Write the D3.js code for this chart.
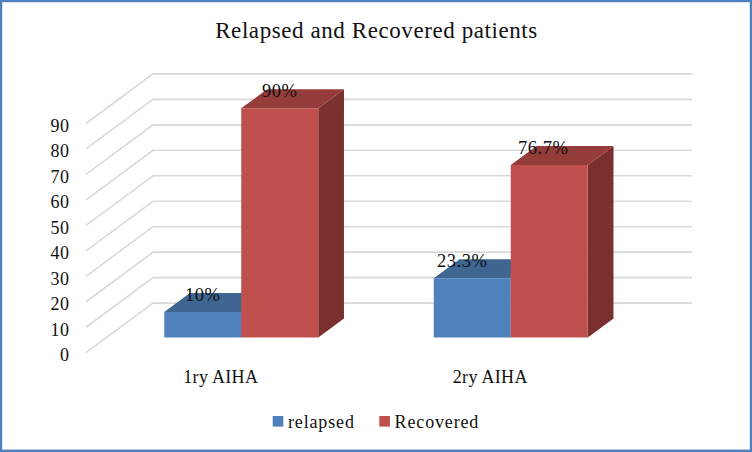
<!DOCTYPE html>
<html><head><meta charset="utf-8"><script src="https://cdn.jsdelivr.net/npm/d3@7"></script>
<style>html,body{margin:0;padding:0;background:#fff}svg{display:block}text{font-family:"Liberation Serif",serif;fill:#111}</style>
</head><body><svg id="c" width="752" height="452"></svg>
<script>
const titleText = "Relapsed and Recovered patients";
const categories = ["1ry AIHA", "2ry AIHA"];
const seriesNames = ["relapsed", "Recovered"];
const relapsed = [10, 23.3];
const recovered = [90, 67.7];
const relapsedLabels = ["10%", "23.3%"];
const recoveredLabels = ["90%", "76.7%"];
const valueTicks = [0,10,20,30,40,50,60,70,80,90];

const W=752,H=452;
const svg=d3.select("#c");
svg.append("rect").attr("x",1).attr("y",1).attr("width",W-2).attr("height",H-2.2)
  .attr("fill","#fff").attr("stroke","#4F81BD").attr("stroke-width",2.4);

const y=d3.scaleLinear().domain([0,90]).range([352.7,123.5]);
const x0=d3.scaleBand().domain(categories).range([86,625]).paddingInner(0.4286).paddingOuter(0.2143);
const x1=d3.scaleBand().domain(seriesNames).range([0,x0.bandwidth()]);
const depthX=d3.scaleLinear().domain([0,1]).range([0,67]);
const depthY=d3.scaleLinear().domain([0,1]).range([0,-49.6]);
const P=(px,v,d)=>[px+depthX(d),y(v)+depthY(d)];
const poly=pts=>pts.map(p=>p.join(",")).join(" ");
const FS="18px", LS="0.55px";

const grid=svg.append("g").attr("fill","none").attr("stroke","#D9D9D9").attr("stroke-width",1.6);
valueTicks.forEach(t=>{
  grid.append("polyline").attr("points",poly([P(86,t,0),P(86,t,1),P(625,t,1)]));
});

const yAxis=d3.axisLeft(y).tickValues(valueTicks).tickSize(0).tickPadding(16.5);
const ga=svg.append("g").attr("transform","translate(86,1.5)").call(yAxis);
ga.select(".domain").remove();
ga.selectAll("text").style("font-size",FS).style("letter-spacing",LS).style("font-family","'Liberation Serif',serif").attr("dy","0.36em");

const xAxis=d3.axisBottom(x0).tickSize(0).tickPadding(0);
const gx=svg.append("g").attr("transform","translate(0,377)").call(xAxis);
gx.select(".domain").remove();
gx.selectAll("text").style("font-size",FS).style("letter-spacing","0.3px").style("font-family","'Liberation Serif',serif").attr("dy","0.36em");

const d0=0.306,d1=0.69;
const seriesData=[
 {name:seriesNames[0],values:relapsed,labels:relapsedLabels,front:"#4F81BD",top:"#3F6591",side:"#345578"},
 {name:seriesNames[1],values:recovered,labels:recoveredLabels,front:"#C0504D",top:"#943C3A",side:"#7A302E"}
];
const labelNudge=[[0,0],[-10,-6]];
const bars=svg.append("g");
seriesData.forEach(s=>{
  categories.forEach((c,i)=>{
    const xa=x0(c)+x1(s.name), xb=xa+x1.bandwidth(), v=s.values[i];
    bars.append("polygon").attr("fill",s.side).attr("points",poly([P(xb,0,d0),P(xb,0,d1),P(xb,v,d1),P(xb,v,d0)]));
    bars.append("polygon").attr("fill",s.top).attr("points",poly([P(xa,v,d0),P(xb,v,d0),P(xb,v,d1),P(xa,v,d1)]));
    bars.append("polygon").attr("fill",s.front).attr("points",poly([P(xa,0,d0),P(xb,0,d0),P(xb,v,d0),P(xa,v,d0)]));
  });
});
const labs=svg.append("g");
seriesData.forEach((s,si)=>{
  categories.forEach((c,i)=>{
    const xa=x0(c)+x1(s.name),v=s.values[i],p=P(xa+x1.bandwidth()/2,v,d0);
    labs.append("text").attr("x",p[0]+labelNudge[i][si]).attr("y",p[1]-11.5)
      .attr("text-anchor","middle").style("font-size","18.5px").style("letter-spacing",LS).text(s.labels[i]);
  });
});

svg.append("text").attr("x",376.5).attr("y",38).attr("text-anchor","middle").style("font-size","23px").style("letter-spacing","0.58px").text(titleText);

const legX=[272.7,379.3];
seriesData.forEach((s,i)=>{
  svg.append("rect").attr("x",legX[i]).attr("y",416).attr("width",10.6).attr("height",10.6).attr("fill",s.front);
  svg.append("text").attr("x",legX[i]+15.3).attr("y",427.5).style("font-size",FS).style("letter-spacing","0.85px").text(s.name);
});
</script></body></html>
